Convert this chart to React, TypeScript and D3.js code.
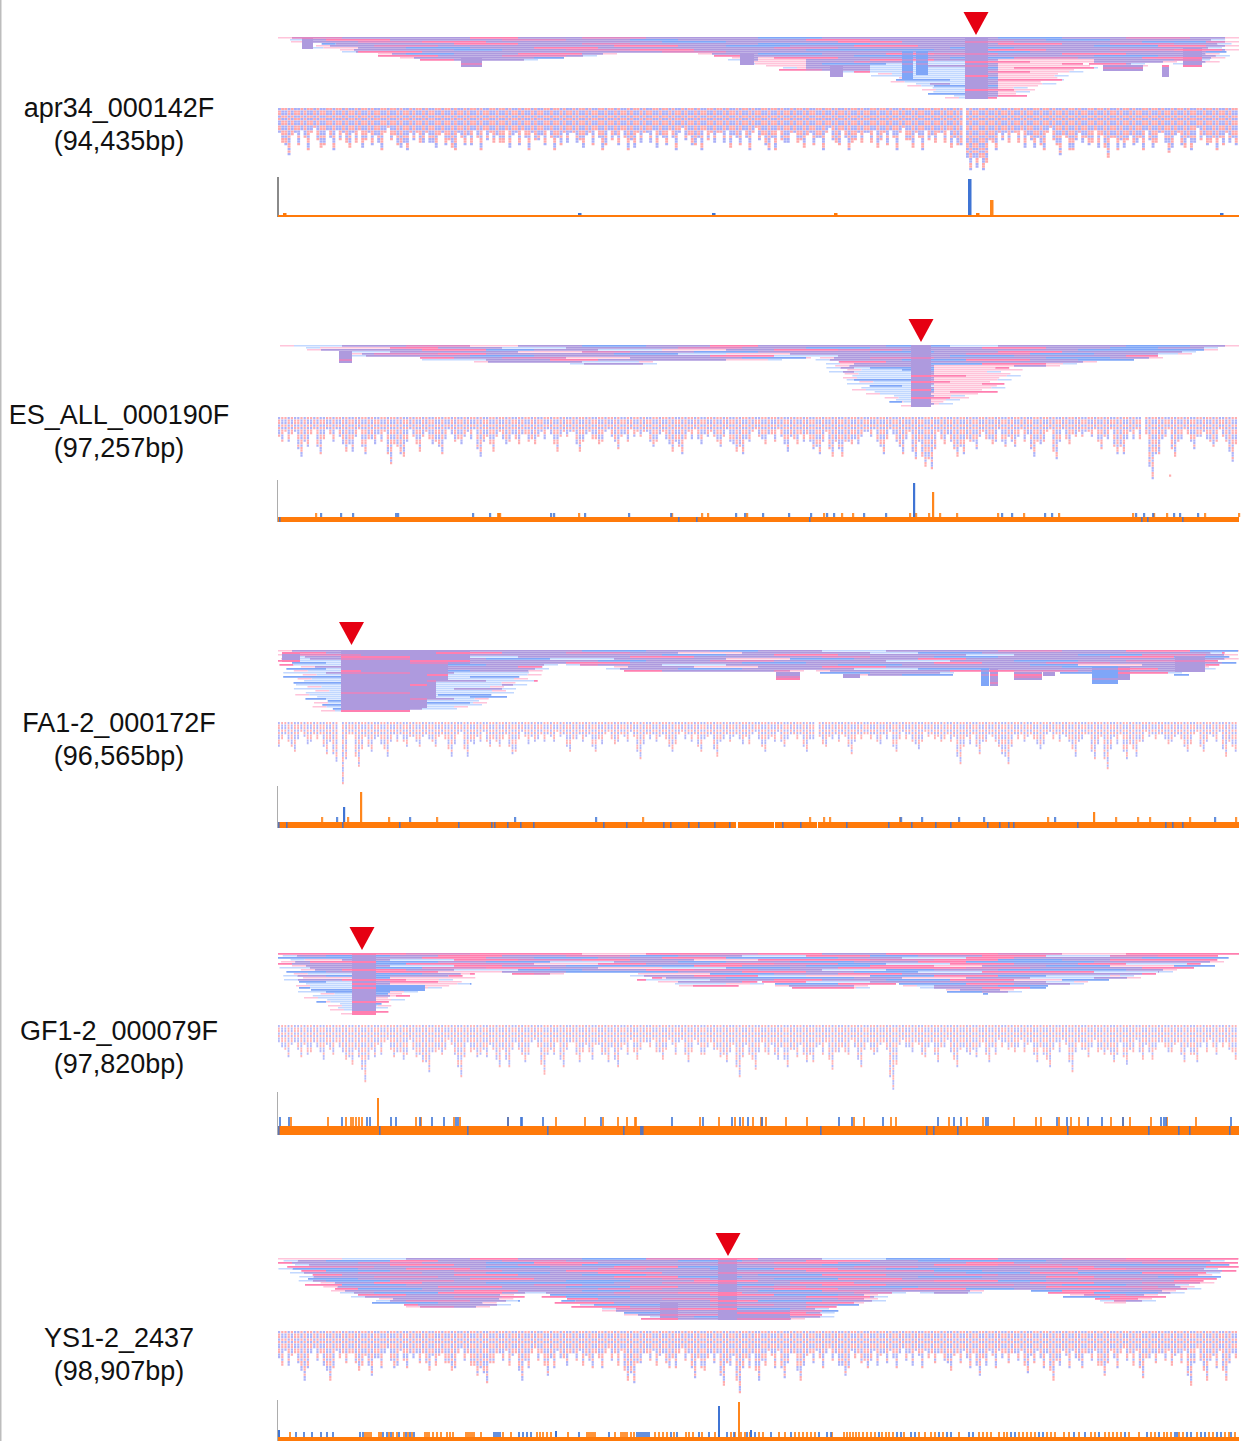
import React, { useEffect, useRef } from "react";
import * as d3 from "d3";

// positions along a contig are in bins (contig scaled to 961 bins)
const contigNames = ["apr34_000142F", "ES_ALL_000190F", "FA1-2_000172F", "GF1-2_000079F", "YS1-2_2437"];
const contigLengths = ["(94,435bp)", "(97,257bp)", "(96,565bp)", "(97,820bp)", "(98,907bp)"];
const markerBins = [698, 643, 73.5, 84, 450];

// pileup depth in rows, one value per 16 bins
const depthApr = [1,2,3,6,7,8,9,10,11,11,12,12,12,12,12,12,12,11,10,10,9,9,8,8,8,8,9,9,10,12,14,15,17,17,17,17,18,18,20,22,25,28,30,31,31,31,30,26,23,20,17,13,14,15,15,13,12,14,13,10,1];
const depthEs = [0,1,2,3,4,5,6,6,6,7,8,8,9,9,9,9,9,9,9,10,10,10,10,10,8,8,8,8,8,8,8,8,7,6,7,12,18,24,26,29,31,31,28,26,24,21,11,11,11,10,9,9,8,8,7,6,5,4,3,2,1];
const depthFa = [1,12,23,30,31,31,31,31,31,30,30,29,29,25,22,18,11,8,7,8,8,10,11,11,11,11,11,11,11,11,11,11,11,10,11,12,13,13,13,13,13,13,12,11,11,11,11,11,11,11,12,12,12,12,12,12,13,11,10,7,1];
const depthGf = [1,12,20,25,29,31,31,24,20,19,17,17,10,10,10,11,11,11,10,10,10,10,9,13,15,16,17,17,17,17,14,16,17,18,18,18,18,17,15,16,17,18,19,20,21,20,20,18,17,16,15,14,14,13,11,10,9,8,6,3,0];
const depthYs = [1,6,12,15,17,19,21,23,24,25,25,25,25,25,23,20,17,19,22,25,26,27,28,30,31,31,31,31,31,31,31,31,31,31,30,24,23,23,19,17,17,18,18,18,17,16,16,16,17,18,20,21,22,23,22,20,18,15,12,7,1];
const pileupDepths = [depthApr, depthEs, depthFa, depthGf, depthYs];

// [start bin, end bin, from row, to row, tone]
const blocksApr = [[24,35,0,6],[183,204,10,15],[462,476,8,14],[552,565,14,20],[624,635,7,21,"b"],[638,650,7,19,"b"],[687,710,0,31],[825,865,14,17],[884,891,14,20],[905,924,5,15]];
const blocksEs = [[61,74,3,9],[633,653,0,31]];
const blocksFa = [[4,22,1,6],[63,83,0,31],[83,132,0,31],[132,149,0,29],[149,158,0,24],[158,170,0,15],[170,192,0,7],[498,522,11,15],[565,582,12,14],[703,711,9,18,"b"],[712,720,9,18],[736,764,11,15],[765,777,11,13],[814,840,8,17,"b"],[840,852,8,15],[897,927,3,11]];
const blocksGf = [[74,98,0,31],[98,147,16,19,"b"]];
const blocksYs = [[382,400,22,31],[440,459,0,31],[459,512,26,31]];
const pileupBlocks = [blocksApr, blocksEs, blocksFa, blocksGf, blocksYs];

// [start bin, end bin, from row, tone]: parts of the pileup with single, pale reads
const paleApr = [[592,687,12,"s"],[710,812,11,"l"],[475,525,10,"l"]];
const paleEs = [[572,633,11,"s"],[653,725,10,"l"]];
const paleFa = [[8,63,4,"s"],[132,245,12,"s"]];
const paleGf = [[10,74,14,"s"],[98,180,12,"l"]];
const paleYs = [];
const paleSpans = [paleApr, paleEs, paleFa, paleGf, paleYs];

// read tones by row, m purple, p pink, b blue, r rose, l pale pink, s pale blue
const tonesApr = [
  "rmmpmrmmbmmmbmrm","mpmmrmbmmpmmmbmm","rmrpmmmbmmpmrmmb","mbmmpmrmmbbmmpmr","pmmrmmmpmbmpmmmb","mmlmbmpmmmrmmbmm",
  "rpmmmbmrpmmbbmpm","mmbmpmmmmrmmmmbm","pmmrmbmpmmmbmprm","mbmmmpmrmmpmmbmm","rmpmbmmmbmrmpmmb","mmmrmmpmmmbmmmpm",
  "pbmmmrmbmpmmbmrm","mmpmbmmmrmmpmmbp","rmmmpmbmmmbmrmmm","mbprmmmpmmmmbpmm","mmmbmrmmbpmmmmrm","pmrmmmpmmmbmpmbm",
  "mmmbpmmbmrmmmbmm","bmpmmrmmmpmmrmpm","mmmbmmmbpmmbmmmb","rmbmpmrmmmbmmpmm","mpmmmbmmpmrmbmmr","mmbrmmpmmbmmmpmb",
  "pmmmbmrmmmpmbmmm","mbmpmmmbmrmmmrpm","mmrmmpbmmmbmpmmb","bmmbmmmpmrmmmbmm","mpmmrbmmmbmpmmrm","mmbmmpmrmmmbmmpm","pmmbmmmpbmmrmmmb",
];
const tonesEs = [
  "smrlmbmpmmbsmmbm","mlpmsmmrmbmmpmbm","lmmpbmslmprmmmbb","mpsmmlrmbmmbmpmm","smmrpmmbslmmmrbm","pmlmmbmmmpsmmbmm",
  "mslmpmrlmmbmrmmb","bmmrmsmpmmlmmbpm","mplmmbmmsmrmpmmm","lmbmmpmsmmbmlmbp","mmsrmmlmpmmmbmmm","pmmbsmmrmlmmpmbm",
  "mlmmpmbmmsmrmmmb","smpmmlmmbmpmmbmm","mmbmrmslmmmpmmrm","pmsmbmmmrmlmbmmp","mmlmmpmmsmmbmpmm","bmmpslmmbmrmmmbm",
  "mpmmmbmlmmsmpmmr","lmmrmmpmbmmmbsmm","mbsmpmmlmmrmmpmm","pmmmlmbmsmmbmmrm","mmpbmmmrmmpmlmbm","smmmpmlmbmmmpmmb",
  "mbmlmmsmpmrmmbmm","pmmsmbmmmlmmpmmr","mmrmpmmbmsmbmmlm","bmpmmlmmrmmmpsmm","mmsmbmpmmbmlmmrm","rmmpmmsmbmmpmmbm","pmbmmrmlmmmbmpmm",
];
const tonesFa = [
  "mmsmmbmbmsmmrmpb","pmmpmrmlmmsbmmmm","mrbmmmmbmpmmsmbr","bmpmsmmpmmrmbmmp","mmrmmbsmmlbmpmmm","rpmmpmmbmrmmsmbm",
  "mmbmrmmpmmbmmpmr","lmpmmbmrmsmmbmmb","bmmrmmmpmmlmpmmm","mpmbmsmmrmbmmsbm","rmmmpmbmmpmmrmmp","mbpmmrmsmbmmmbmm",
  "pmmbmmmpmrmpmmmb","mrmmpbmmbmmsmrmm","bmpmrmmsmmbmmpmr","mmmbmpmmrmpmbmmm","pmrmmmbmmmbmmrpm","mbmpmsmmpmrmmmbm",
  "rmmbmmrmbmmpmmmb","mpmmmbmpmmrmsmbm","mmbpmrmmmbmmmpmr","bmmmpmmbmrmpmmmm","mpmrmmbmmsmbmrmm","rmmmpbmmpmmmbmpm",
  "mbmpmmrmmbmrmmmb","pmmbmmmpmmbmmpmr","mrpmmbmmrmmmbmmm","bmmmpmrmmpmbmmpm","mmpbmmmbmmrmmmbm","pprpmmpmrpmmbmmm","rpprpmmpmmbmprmm",
];
const tonesGf = [
  "pprpplprpmpprlpp","mbmpmrbmspbmpsrp","bbmpmbmpbbmspmmb","plmsprpmlpprpbmp","mmpbmbsmbmbmpbbm","spmbprlpmprbspmp",
  "lbmmspmbbpmbplmb","mpsmbrpmlsbmpprm","bmlmpmsbmprmsbmb","psmbmplmbbmpmbsp","mmplsbmprslbmpmm","bslpmbmpmbmpslbp",
  "msmmplbmsrpmbbml","plbmsmpbmlpsmpmb","mmsplbmpbbmlmpsm","bpmlmspmbrmpslbp","smbpmmlsmpmbmpmm","lmpbsmbpmlsbmbmp",
  "bsmmplmbbpmsmpbb","mpbmslpmbmrpmsmp","lsmbmpmlsbpbmbms","msplmbsmpmrbmpls","pmbslmbmpslmbmpm","bmlpsmmpbmlsbmmp",
  "slmbmpslmbpmlsmb","mbslpmbmplsbmpmm","plmmbslpmbmsplmb","smbplmsbmplmbsmp","mlpsbmplsmbmplmb","bmslmpbmlsmbpslm","pslmbplsmbmlpsmb",
];
const tonesYs = [
  "lsmpmbrpmsbpmrpp","mbpmrmmbmpmbbmrm","pmrmbpmmrpmmpmmr","bmmpmrbmmmbmprmb","mprmmbmpbmmrmmpm","rmbmpmmrmbpmbmmp",
  "mmpbmrmpmmmprbmm","bpmmrmbmpmrmmmbp","mmrpmmpmbmmbpmrm","pmbmmrmmmpbmmmbm","mrmpbmmpmmrmbpmm","bmmpmbrmmbmpmmrp",
  "mpmrmmpmbbmrmpmm","rmbmmpbmmrmmbmpm","mmprmbmmpmbpmrmb","pbmmrmpbmmmrmmpm","mmbpmmrmmpmbmmbr","rmmpbmmmbpmmrpmm",
  "mbpmrmbmpmmbmmpb","pmmmbprmmmrpbmmm","mrbmmpmmbmmmpmrm","bmmpmrmbpmrmbmmp","mpmmbmmpmmbmrpmm","rmbpmmrmmbpmmmbm",
  "mmpmrbmmpmmrmbpm","pbmmmpmrmbmpmmmr","mmrbpmmbmmpmbmmm","bmpmmrmmbpmmrmpb","mrmpbmmpmrmmbmmp","pmbmmrpmmbmpmrmm","bpmrmmbmpmmbmmpb",
];
const readTones = [tonesApr, tonesEs, tonesFa, tonesGf, tonesYs];
const readOverhang = [6,-4,11,-9,2,14,-6,8,-12,4,-2,10,-8,13,0,-5,7];

// hanging read columns: deepest columns as [bin, reads]
const peaksApr = [[10,19],[28,15],[41,16],[71,16],[87,13],[98,14],[123,16],[129,17],[144,14],[153,14],[174,16],[184,15],[207,11],[222,14],[255,13],[274,15],[281,15],[304,16],[327,15],[354,16],[388,15],[417,15],[444,12],[461,15],[489,17],[505,14],[520,13],[539,12],[556,14],[573,14],[592,12],[602,13],[615,11],[632,16],[642,14],[654,11],[665,13],[679,15],[690,25],[694,20],[699,24],[705,25],[708,22],[717,17],[739,12],[754,16],[762,15],[780,19],[795,17],[810,15],[830,20],[845,16],[857,14],[875,16],[890,18],[904,16],[915,14],[930,14],[944,15],[957,15]];
const peaksEs = [[4,10],[22,16],[30,12],[40,15],[67,14],[75,14],[87,15],[97,11],[111,19],[120,15],[125,16],[142,14],[152,11],[164,15],[182,11],[202,16],[214,14],[227,11],[240,11],[257,11],[279,14],[302,14],[320,11],[340,13],[375,12],[392,14],[404,15],[422,11],[442,12],[459,14],[465,15],[487,11],[510,14],[517,11],[535,13],[542,15],[554,16],[562,16],[572,11],[579,11],[604,15],[624,15],[637,17],[647,20],[652,21],[664,11],[677,16],[685,15],[699,13],[714,11],[727,12],[735,12],[754,16],[762,11],[779,17],[790,11],[822,13],[839,15],[845,15],[865,11],[875,25],[880,15],[897,16],[915,13],[935,12],[949,13],[955,18]];
const peaksFa = [[1,10],[16,12],[31,8],[47,13],[57,16],[64,25],[81,18],[92,12],[109,14],[127,10],[141,10],[157,10],[174,14],[189,14],[195,9],[212,10],[222,10],[233,13],[237,12],[257,8],[292,12],[316,12],[336,9],[361,15],[394,12],[421,12],[438,14],[463,9],[487,12],[507,10],[529,12],[546,10],[573,13],[601,9],[617,12],[639,11],[661,8],[681,17],[700,13],[722,13],[731,17],[760,11],[796,14],[817,15],[828,19],[848,15],[859,14],[890,9],[910,12],[925,12],[947,14],[958,12]];
const peaksGf = [[8,13],[22,13],[32,11],[46,14],[54,12],[68,14],[74,16],[83,16],[87,23],[96,13],[115,13],[125,14],[137,13],[145,15],[150,19],[164,12],[181,21],[197,13],[209,13],[221,17],[231,17],[245,15],[265,20],[275,12],[284,17],[300,15],[314,14],[330,15],[340,17],[359,14],[384,14],[409,15],[425,12],[442,13],[449,15],[462,21],[477,18],[490,12],[500,14],[509,17],[517,13],[529,15],[535,15],[552,18],[567,11],[582,17],[595,12],[613,26],[617,13],[632,11],[645,13],[660,15],[678,17],[687,11],[699,13],[710,15],[737,11],[757,15],[770,17],[794,19],[809,13],[824,12],[835,15],[849,16],[864,14],[874,14],[890,11],[905,15],[919,15],[939,11],[957,14]];
const peaksYs = [[4,14],[25,20],[50,20],[81,16],[93,18],[115,15],[128,15],[149,16],[173,16],[199,18],[208,21],[243,20],[268,18],[289,14],[314,15],[348,20],[356,21],[389,15],[415,19],[426,16],[445,22],[460,25],[479,20],[507,19],[522,20],[566,18],[588,15],[619,13],[672,16],[701,18],[749,17],[774,20],[802,15],[826,18],[865,19],[911,22],[927,20],[947,20],[958,11]];
const columnPeaks = [peaksApr, peaksEs, peaksFa, peaksGf, peaksYs];
const columnBase = [10, 6, 5, 7, 9];
const columnRhythm = [1,1.35,0.9,1.6,1.1,0.95,1.45,0.85,1.2,1.7,1,0.8,1.3,1.05,1.5,0.9,1.15,1.65,0.85,1.25,1,1.4,0.95];
const columnGaps = [[[684,687],[709,710]], [[632,633],[862,864]], [[60,63],[346,348],[537,540]], [[97,98],[360,361]], []];
// strand mottling of the dots: a dot is pink where the two patterns differ
const dotRowStrands = "0110100110010";
const dotColStrands = "01101001011010011";
const strayDots = [[], [[891,23]], [], [], []];

// coverage bars: short ones share one value, tall ones have their own
const shortValues = [2, 4, 5, 9, 5];
const shortOrange = [
  [5,556,698],
  [37,219,220,221,300,393,423,429,468,545,563,574,631,637,650,661,678,719,745,780,854,875,888,926,960],
  [43,69,110,158,364,531,545,551,621,769,837,859,871,911,957],
  [12,49,67,72,74,77,80,83,137,142,175,181,229,277,306,324,339,348,356,357,421,440,456,464,474,482,483,487,507,528,575,585,612,617,670,688,704,735,757,762,780,792,800,832,844,851,872,888,917],
  [11,86,88,90,92,100,102,110,114,118,125,129,133,146,148,150,154,158,162,168,171,174,187,189,191,193,195,202,224,232,258,261,264,268,272,289,308,310,312,314,316,336,342,344,346,348,352,355,376,380,384,388,395,407,410,414,423,436,452,456,462,466,471,480,484,500,506,516,520,524,528,532,536,553,565,568,571,574,577,580,584,588,592,596,603,607,610,614,625,640,646,652,656,664,680,700,704,708,712,720,725,728,740,744,748,752,756,768,772,776,785,790,800,812,816,826,830,834,838,842,850,860,872,876,885,888,892,900,904,918,930,934,946,950,956],
];
const shortBlue = [
  [300,434,942],
  [42,62,74,117,119,194,211,272,275,306,350,392,457,466,484,510,532,548,555,585,607,723,733,766,773,857,865,874,895,901,919],
  [58,131,236,317,622,643,680,705,776,936],
  [1,10,63,88,91,112,117,141,153,165,177,179,229,242,243,264,322,393,424,453,461,469,483,560,573,604,659,675,682,707,709,778,788,809,823,844,882,885,887,952],
  [17,25,33,42,48,54,81,84,104,108,112,120,127,131,135,215,217,219,221,240,244,248,252,300,330,358,360,362,364,366,368,370,392,398,420,430,448,455,468,476,492,512,540,548,552,600,618,622,632,636,660,668,672,690,694,732,736,760,764,795,806,820,846,868,880,896,898,908,912,922,926,938,942,952],
];
const tallOrange = [[[712,15]], [[654,25]], [[82,30],[815,10]], [[99,28]], [[460,35]]];
const tallBlue = [[[690,36]], [[635,34]], [[65,15]], [], [[440,31],[0,7],[277,6],[472,7]]];
// dark ticks inside the orange base strip, and white breaks in it
const baseTicks = [
  [],
  [1,400,418,531,863,869,904],
  [0,8,64,121,180,213,216,229,242,255,325,348,385,392,410,420,436,451,504,522,568,610,633,657,672,709,721,730,735,799,887,894,904],
  [0,101,189,269,345,362,363,364,542,648,655,679,789,870,900,911,951],
  [],
];
const baseBreaks = [[], [], [[458,460],[496,497],[539,540]], [], []];

// page layout of each contig block
const layouts = [
  { labelY: 117, markerY: 12, pileY: 37, colY: 108, baseY: 215, baseH: 2, axisY: 177, axisW: 2, barW: 3.5, dotW: 2.9, dotOp: 1 },
  { labelY: 424, markerY: 319, pileY: 345, colY: 417, baseY: 517, baseH: 5, axisY: 480, axisW: 1, barW: 2.2, dotW: 2.2, dotOp: 0.95 },
  { labelY: 732, markerY: 622, pileY: 650, colY: 722, baseY: 822, baseH: 6, axisY: 786, axisW: 1, barW: 2.2, dotW: 1.8, dotOp: 0.9 },
  { labelY: 1039.5, markerY: 927, pileY: 953, colY: 1025, baseY: 1126, baseH: 9, axisY: 1092, axisW: 1, barW: 2, dotW: 1.8, dotOp: 0.85 },
  { labelY: 1347, markerY: 1233, pileY: 1258, colY: 1331, baseY: 1437, baseH: 4, axisY: 1400, axisW: 1, barW: 2, dotW: 2.2, dotOp: 0.95 },
];

const toneColors: Record<string, string> = { m: "#ae9ade", p: "#ff7fb0", b: "#7fa6f8", r: "#dd88c4", l: "#ffc4da", s: "#c2d8ff" };
const ORANGE = "#ff7a0a";
const BLUE = "#3f74d4";
const DOT_PINK = "#ffa9ab";
const DOT_LAV = "#aab0f8";

const WIDTH = 1249, HEIGHT = 1441;
const binStep = 16;
const toneCell = 60;
const rowH = 2;
const readH = 2.5; // one read in the hanging columns
const colPitch = 3.2;
const endFade = 14;

const x = d3.scaleLinear().domain([0, 961]).range([278, 1239]);

const paleTone = (tone: string, t: string) => {
  if (tone === "s") return t === "b" ? "b" : t === "r" ? "m" : "s";
  return t === "p" || t === "r" ? "p" : "l";
};

const App = () => {
  const ref = useRef<SVGSVGElement>(null);

  useEffect(() => {
    const svg = d3.select(ref.current);
    svg.selectAll("*").remove();

    svg.append("defs").append("filter").attr("id", "soft")
      .attr("x", 0).attr("y", 0).attr("width", 1).attr("height", 1)
      .append("feGaussianBlur").attr("stdDeviation", 0.4);

    svg.append("rect").attr("x", 0).attr("y", 0).attr("width", 1.5).attr("height", HEIGHT).attr("fill", "#bdbdbd");

    layouts.forEach((lay, pi) => {
      const g = svg.append("g");

      // labels
      const label = g.append("g").attr("font-family", "'Liberation Sans', Arial, sans-serif")
        .attr("font-size", 27).attr("text-anchor", "middle").attr("fill", "#111");
      label.append("text").attr("x", 119).attr("y", lay.labelY).text(contigNames[pi]);
      label.append("text").attr("x", 119).attr("y", lay.labelY + 33).text(contigLengths[pi]);

      // marker
      const mx = x(markerBins[pi]);
      g.append("path")
        .attr("d", `M${mx - 12.5},${lay.markerY}L${mx + 12.5},${lay.markerY}L${mx},${lay.markerY + 23}Z`)
        .attr("fill", "#e60012");

      // pileup: each row is cut from the depth outline
      const rowY = d3.scaleLinear().domain([0, 31]).range([lay.pileY, lay.pileY + 31 * rowH]);
      const paths: Record<string, d3.Path> = {};
      Object.keys(toneColors).forEach(k => (paths[k] = d3.path()));
      const depths = pileupDepths[pi];
      const tones = readTones[pi];
      const toneAt = (bin: number, k: number) => {
        const row = tones[k % tones.length];
        const idx = Math.floor((bin + k * 23) / toneCell) % row.length;
        return row[idx];
      };
      for (let k = 0; k < 31; k++) {
        let i = 0;
        while (i < depths.length) {
          if (depths[i] <= k) { i++; continue; }
          const a = i;
          while (i + 1 < depths.length && depths[i + 1] > k) i++;
          const b = i;
          i++;
          const cross = (i0: number, i1: number) =>
            i0 * binStep + (i1 - i0) * binStep * Math.max(0, Math.min(1, (k + 0.5 - depths[i0]) / (depths[i1] - depths[i0])));
          const ovL = readOverhang[k % readOverhang.length];
          const ovR = readOverhang[(k + 7) % readOverhang.length];
          const start = Math.max(0, a === 0 ? 0 : cross(a - 1, a) - ovL);
          const end = Math.min(961, b === depths.length - 1 ? 961 : cross(b + 1, b) + ovR);
          // cut at tone cells
          const cuts = [start, Math.min(end, start + endFade), Math.max(start, end - endFade), end];
          d3.range(Math.ceil(start / binStep) * binStep, end, binStep).forEach(c => cuts.push(c));
          cuts.sort((p, q) => p - q);
          for (let c = 0; c < cuts.length - 1; c++) {
            const s0 = cuts[c], s1 = cuts[c + 1];
            if (s1 - s0 <= 0) continue;
            let t = toneAt(s0, k);
            const pale = paleSpans[pi].find(sp => s0 >= sp[0] && s0 < sp[1] && k >= sp[2]);
            if (pale) t = paleTone(pale[3] as string, t);
            const atEdge = s0 < start + endFade || s1 > end - endFade;
            if (atEdge && t !== "p" && t !== "b") t = k % 2 ? "s" : "l";
            const h = t === "l" || t === "s" ? rowH * 0.8 : rowH * 0.9;
            paths[t].rect(x(s0), rowY(k), x(s1) - x(s0), h);
          }
        }
      }
      const blockPaths: Record<string, d3.Path> = {};
      Object.keys(toneColors).forEach(k => (blockPaths[k] = d3.path()));
      pileupBlocks[pi].forEach(b => {
        const [s, e, from, to, tone] = b as [number, number, number, number, string?];
        for (let k = from; k < to; k++) {
          const raw = toneAt(s, k);
          let t = raw === "p" || raw === "r" ? raw : "m";
          if (tone === "b") t = raw === "p" ? "m" : "b";
          blockPaths[t].rect(x(s), rowY(k), x(e) - x(s), rowH);
        }
      });
      const pile = g.append("g").attr("filter", "url(#soft)");
      Object.keys(toneColors).forEach(k => {
        pile.append("path").attr("d", paths[k].toString()).attr("fill", toneColors[k]);
      });
      Object.keys(toneColors).forEach(k => {
        pile.append("path").attr("d", blockPaths[k].toString()).attr("fill", toneColors[k]);
      });

      // hanging read columns
      const nCols = Math.floor(960 / colPitch);
      const colDepth = d3.range(nCols).map(c => columnBase[pi] * columnRhythm[c % columnRhythm.length]);
      columnPeaks[pi].forEach(([bin, reads]) => {
        const c = Math.round(bin / colPitch);
        const set = (j: number, v: number) => { if (j >= 0 && j < nCols) colDepth[j] = Math.max(colDepth[j], v); };
        set(c, reads);
        set(c - 1, reads * 0.8);
        set(c + 1, reads * 0.6);
      });
      columnGaps[pi].forEach(([s, e]) => {
        d3.range(nCols).forEach(c => { if (c * colPitch >= s && c * colPitch <= e) colDepth[c] = 0; });
      });
      const colY = d3.scaleLinear().domain([0, 30]).range([lay.colY, lay.colY + 30 * readH]);
      const pinkDots = d3.path();
      const lavDots = d3.path();
      const putDot = (bin: number, r: number, c: number) => {
        const isPink = dotRowStrands[r % dotRowStrands.length] !== dotColStrands[c % dotColStrands.length];
        (isPink ? pinkDots : lavDots).rect(x(bin), colY(r), lay.dotW, readH * 0.85);
      };
      colDepth.forEach((d, c) => {
        for (let r = 0; r < Math.round(d); r++) putDot(c * colPitch, r, c);
      });
      strayDots[pi].forEach(([bin, r]) => putDot(bin, r, bin));
      const dots = g.append("g").attr("filter", "url(#soft)").attr("opacity", lay.dotOp);
      dots.append("path").attr("d", pinkDots.toString()).attr("fill", DOT_PINK);
      dots.append("path").attr("d", lavDots.toString()).attr("fill", DOT_LAV);

      // coverage bars
      const barY = d3.scaleLinear().domain([0, 40]).range([lay.baseY, lay.baseY - 40]);
      const bars = g.append("g");
      bars.append("rect").attr("x", 277).attr("y", lay.axisY).attr("width", lay.axisW)
        .attr("height", lay.baseY + lay.baseH - lay.axisY).attr("fill", pi === 0 ? "#8a8a8a" : "#adadad");
      const drawBars = (items: number[][], fill: string, op: number) => {
        bars.selectAll(null).data(items).enter().append("rect")
          .attr("x", d => x(d[0]))
          .attr("y", d => barY(d[1]))
          .attr("width", lay.barW)
          .attr("height", d => lay.baseY - barY(d[1]))
          .attr("fill", fill)
          .attr("opacity", op);
      };
      const shortOp = pi === 0 ? 1 : 0.8;
      drawBars(shortOrange[pi].map(b => [b, shortValues[pi]]), ORANGE, shortOp);
      drawBars(shortBlue[pi].map(b => [b, shortValues[pi]]), BLUE, shortOp);
      drawBars(tallOrange[pi], "#ff861c", 1);
      drawBars(tallBlue[pi], BLUE, 1);

      bars.append("rect").attr("x", x(0)).attr("y", lay.baseY).attr("width", x(961) - x(0))
        .attr("height", lay.baseH).attr("fill", ORANGE);
      bars.selectAll(null).data(baseBreaks[pi]).enter().append("rect")
        .attr("x", d => x(d[0])).attr("y", lay.baseY).attr("width", d => x(d[1]) - x(d[0]))
        .attr("height", lay.baseH).attr("fill", "#fff");
      bars.selectAll(null).data(baseTicks[pi]).enter().append("rect")
        .attr("x", d => x(d)).attr("y", lay.baseY).attr("width", 1.6)
        .attr("height", lay.baseH).attr("fill", "#5a74b8");
    });
  }, []);

  return (
    <svg ref={ref} width={WIDTH} height={HEIGHT}
      style={{ position: "absolute", left: 0, top: 0, display: "block", background: "#fff" }} />
  );
};

export default App;
